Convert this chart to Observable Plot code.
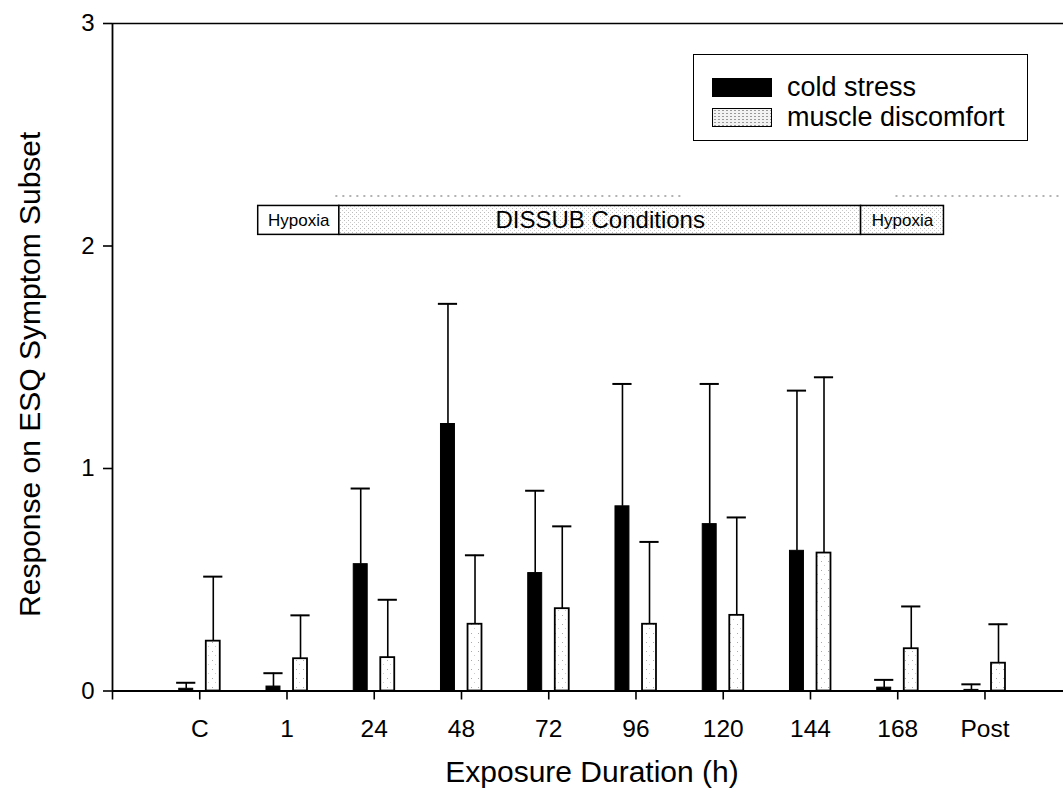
<!DOCTYPE html>
<html><head><meta charset="utf-8">
<script src="https://cdn.jsdelivr.net/npm/d3@7"></script>
<script src="https://cdn.jsdelivr.net/npm/@observablehq/plot@0.6"></script>
<style>
html,body{margin:0;padding:0;background:#fff;}
#wrap{position:relative;width:1063px;height:790px;overflow:hidden;font-family:"Liberation Sans",Arial,sans-serif;}
#wrap svg{display:block;}
.legend{position:absolute;left:693px;top:54px;width:333px;height:85px;border:1.5px solid #000;background:#fff;}
.legend .row{position:absolute;left:18px;height:20px;display:flex;align-items:center;}
.legend .sw{width:60px;height:19px;box-sizing:border-box;margin-right:15px;}
.legend .lab{font-size:27px;line-height:20px;color:#000;white-space:nowrap;}
</style></head><body><div id="wrap"></div>
<script>
// ---- data ----
const categories = ["C", "1", "24", "48", "72", "96", "120", "144", "168", "Post"];
const coldStress = [0.01, 0.02, 0.57, 1.20, 0.53, 0.83, 0.75, 0.63, 0.015, 0.005];
const coldStressErr = [0.027, 0.06, 0.34, 0.54, 0.37, 0.55, 0.63, 0.72, 0.035, 0.025];
const muscleDiscomfort = [0.224, 0.145, 0.15, 0.30, 0.37, 0.30, 0.34, 0.62, 0.19, 0.125];
const muscleDiscomfortErr = [0.29, 0.195, 0.26, 0.31, 0.37, 0.37, 0.44, 0.79, 0.19, 0.175];
const seriesNames = ["cold stress", "muscle discomfort"];
const yTicks = [0, 1, 2, 3];
const phaseLabels = ["Hypoxia", "DISSUB Conditions", "Hypoxia"];
const phaseStart = [1.67, 2.6, 8.58];
const phaseEnd = [2.6, 8.58, 9.53];
const faintStart = [2.56, 8.98];
const faintEnd = [6.57, 10.9];
const xTitle = "Exposure Duration (h)";
const yTitle = "Response on ESQ Symptom Subset";

// ---- build tables ----
const offset = {"cold stress": -0.155, "muscle discomfort": 0.155};
const half = 0.08, capHalf = 0.11;
const rows = [];
categories.forEach((c, i) => {
  rows.push({cat: c, pos: i + 1, series: seriesNames[0], value: coldStress[i], err: coldStressErr[i]});
  rows.push({cat: c, pos: i + 1, series: seriesNames[1], value: muscleDiscomfort[i], err: muscleDiscomfortErr[i]});
});
const cold = rows.filter(d => d.series === seriesNames[0]);
const muscle = rows.filter(d => d.series === seriesNames[1]);
const phases = phaseLabels.map((l, i) => ({label: l, x1: phaseStart[i], x2: phaseEnd[i], i}));
const faint = faintStart.map((s, i) => ({x1: s, x2: faintEnd[i]}));
const cx = d => d.pos + offset[d.series];

const font = "Liberation Sans, Arial, sans-serif";
const plot = Plot.plot({
  width: 1063, height: 790,
  marginLeft: 112, marginRight: 0, marginTop: 23, marginBottom: 99.5,
  style: {fontFamily: font, background: "#fff", color: "#000", overflow: "visible"},
  x: {domain: [0, 10.9], axis: null},
  y: {domain: [0, 3], axis: null},
  marks: [
    // error bars (upper only)
    Plot.ruleX(rows, {x: cx, y1: "value", y2: d => d.value + d.err, stroke: "#000", strokeWidth: 1.6}),
    Plot.ruleY(rows, {y: d => d.value + d.err, x1: d => cx(d) - capHalf, x2: d => cx(d) + capHalf, stroke: "#000", strokeWidth: 2}),
    // bars
    Plot.rectY(cold, {x1: d => cx(d) - half, x2: d => cx(d) + half, y1: 0, y2: "value", fill: "#000", stroke: "#000", strokeWidth: 1}),
    Plot.rectY(muscle, {x1: d => cx(d) - half, x2: d => cx(d) + half, y1: 0, y2: "value", fill: "url(#stipple)", stroke: "#000", strokeWidth: 1.8}),
    // faint scanned dotted annotation above the phase box
    Plot.ruleY(faint, {y: 2.225, x1: "x1", x2: "x2", stroke: "#999", strokeWidth: 1.5, strokeDasharray: "2,5"}),
    // phase annotation box
    Plot.rect(phases, {x1: "x1", x2: "x2", y1: 2.05, y2: 2.18, fill: d => d.i === 0 ? "#fff" : "url(#stipple2)", stroke: "#000", strokeWidth: 1.5}),
    Plot.text(phases, {x: d => (d.x1 + d.x2) / 2, y: 2.115, text: "label", fontSize: d => d.i === 1 ? 24 : 17, fill: "#000"}),
    // frame lines
    Plot.ruleY([0], {stroke: "#000", strokeWidth: 2}),
    Plot.ruleY([3], {stroke: "#000", strokeWidth: 1.5}),
    Plot.ruleX([0], {stroke: "#000", strokeWidth: 1.8}),
    // axes
    Plot.axisX({ticks: d3.range(0, 11), tickFormat: i => i === 0 ? "" : categories[i - 1], tickSize: 9, tickPadding: 20, fontSize: 24.5, strokeWidth: 1.6, label: null}),
    Plot.axisY({ticks: yTicks, tickFormat: d3.format("d"), tickSize: 9, tickPadding: 9, fontSize: 24, strokeWidth: 1.6, label: null}),
    // axis titles
    Plot.text([xTitle], {frameAnchor: "bottom", lineAnchor: "bottom", dx: 4, dy: 91, fontSize: 30, fill: "#000"}),
    Plot.text([yTitle], {frameAnchor: "left", textAnchor: "middle", rotate: -90, dx: -82, dy: 17, fontSize: 30, fill: "#000"})
  ]
});
plot.insertAdjacentHTML("afterbegin",
  `<defs>
    <pattern id="stipple" width="7" height="9" patternUnits="userSpaceOnUse">
      <rect width="7" height="9" fill="#fff"/>
      <rect x="2" y="3" width="1" height="1" fill="#aaa"/>
      <rect x="5" y="7" width="1" height="1" fill="#ccc"/>
    </pattern>
    <pattern id="stipple2" width="4" height="4" patternUnits="userSpaceOnUse">
      <rect width="4" height="4" fill="#fff"/>
      <rect x="0" y="0" width="1" height="1" fill="#bbb"/>
      <rect x="2" y="2" width="1" height="1" fill="#ccc"/>
    </pattern>
  </defs>`);
const wrap = document.getElementById("wrap");
wrap.appendChild(plot);

// legend
const legend = document.createElement("div");
legend.className = "legend";
const swFills = ["background:#000;", "background:radial-gradient(#999 0.7px, transparent 1px) 0 0/4px 3px, #f2f2f2;border:1.5px solid #000;"];
seriesNames.forEach((s, i) => {
  const row = document.createElement("div");
  row.className = "row";
  row.style.top = (i === 0 ? 22 : 52) + "px";
  row.innerHTML = `<div class="sw" style="${swFills[i]}"></div><div class="lab">${s}</div>`;
  legend.appendChild(row);
});
wrap.appendChild(legend);
</script></body></html>
